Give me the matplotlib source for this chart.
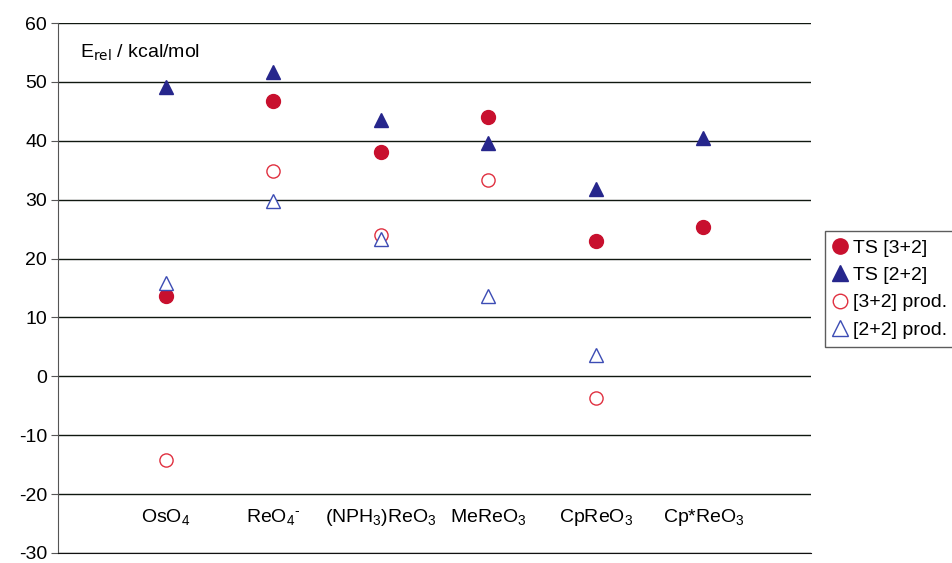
import matplotlib
matplotlib.use('Agg')
import matplotlib.pyplot as plt
import numpy as np

plt.rcParams['font.family'] = ['Liberation Sans', 'DejaVu Sans']
plt.rcParams['mathtext.fontset'] = 'custom'
plt.rcParams['mathtext.rm'] = 'Liberation Sans'
plt.rcParams['mathtext.it'] = 'Liberation Sans:italic'
plt.rcParams['axes.unicode_minus'] = False

# data (kcal/mol)
compounds = [r'OsO$_4$', r'ReO$_4$$^{\text{-}}$', r'(NPH$_3$)ReO$_3$',
             r'MeReO$_3$', r'CpReO$_3$', r'Cp*ReO$_3$']
ts_32 = [13.7, 46.7, 38.1, 44.0, 23.0, 25.4]
ts_22 = [49.2, 51.6, 43.5, 39.6, 31.8, 40.4]
prod_32 = [-14.2, 34.9, 24.0, 33.3, -3.7, np.nan]
prod_22 = [15.9, 29.8, 23.3, 13.7, 3.7, np.nan]

x = np.arange(1, len(compounds) + 1)

fig = plt.figure(figsize=(9.53, 5.63), dpi=100)
ax = fig.add_axes([0.0609, 0.0178, 0.7901, 0.9413])

red = '#c8102e'
blue = '#26268c'

ax.plot(x, ts_32, 'o', color=red, ms=10, ls='none', label='TS [3+2]', zorder=3)
ax.plot(x, ts_22, '^', color=blue, ms=10.5, ls='none', label='TS [2+2]', zorder=3)
ax.plot(x, prod_32, 'o', mfc='white', mec='#e03040', mew=1.0, ms=9.5, ls='none',
        label='[3+2] prod.', zorder=3)
ax.plot(x, prod_22, '^', mfc='white', mec='#3c4cb4', mew=1.0, ms=10, ls='none',
        label='[2+2] prod.', zorder=3)

ax.set_xlim(0, 7)
ax.set_ylim(-30, 60)
ax.set_yticks(np.arange(-30, 61, 10))
ax.tick_params(axis='y', labelsize=14, length=5, direction='out', color='#555555', pad=3)
ax.yaxis.grid(True, color='#101810', lw=1.0)
ax.set_axisbelow(True)

ax.set_xticks(x)
ax.set_xticklabels(compounds, fontsize=14)
ax.tick_params(axis='x', length=0, pad=-33)

for s in ['top', 'right']:
    ax.spines[s].set_visible(False)
ax.spines['left'].set_color('#555555')
ax.spines['bottom'].set_color('#111111')

ax.text(0.029, 0.945, r'E$_{\mathsf{rel}}$ / kcal/mol', transform=ax.transAxes,
        fontsize=14, ha='left', va='center')

leg = fig.legend(loc='upper left', bbox_to_anchor=(0.866, 0.589), fontsize=14,
                 frameon=True, fancybox=False, edgecolor='#333333', handlelength=0.7,
                 handletextpad=0.3, borderpad=0.4, labelspacing=0.5, borderaxespad=0,
                 markerscale=1.1)
leg.get_frame().set_linewidth(1.0)

fig.savefig('out.png', dpi=100)
